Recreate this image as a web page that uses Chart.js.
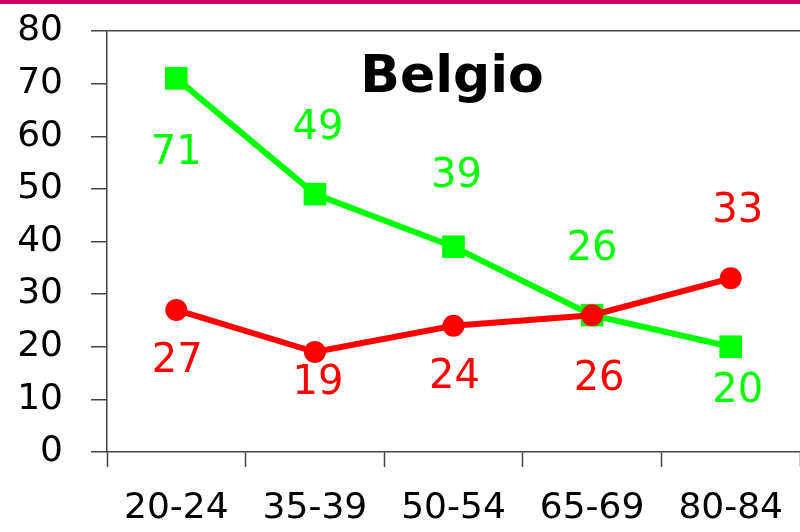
<!DOCTYPE html>
<html>
<head>
<meta charset="utf-8">
<script src="https://cdn.jsdelivr.net/npm/chart.js@4"></script>
<style>
  html, body { margin: 0; padding: 0; background: #fff; }
  #wrap { position: relative; width: 800px; height: 532px; }
  #band { position: absolute; left: 0; top: 0; width: 800px; height: 4px; background: #cc0066; }
</style>
</head>
<body>
<div id="wrap">
  <div id="band"></div>
  <canvas id="chart" width="800" height="532"></canvas>
</div>
<script>
// Age groups and values for Belgium
const ageGroups = ['20-24', '35-39', '50-54', '65-69', '80-84'];
const greenValues = [71, 49, 39, 26, 20];
const redValues = [27, 19, 24, 26, 33];
const chartTitle = 'Belgio';

const FONT = '"Comic Sans MS", "DejaVu Sans", sans-serif';

// Where each value label sits relative to its point (pixels)
const greenLabelOffsets = [[0, 75], [3, -66], [3, -70], [0, -66], [7, 45]];
const redLabelOffsets = [[1, 52], [3, 32], [1, 52], [7, 64], [7, -67]];

const valueLabels = {
  id: 'valueLabels',
  afterDatasetsDraw(chart) {
    const ctx = chart.ctx;
    const offsets = [greenLabelOffsets, redLabelOffsets];
    ctx.save();
    ctx.font = '40px ' + FONT;
    ctx.textAlign = 'center';
    ctx.textBaseline = 'middle';
    chart.data.datasets.forEach((ds, i) => {
      const meta = chart.getDatasetMeta(i);
      ctx.fillStyle = ds.borderColor;
      meta.data.forEach((pt, j) => {
        const [dx, dy] = offsets[i][j];
        ctx.fillText(String(ds.data[j]), pt.x + dx, pt.y + dy);
      });
    });
    // title inside the plot
    ctx.fillStyle = '#000';
    ctx.font = 'bold 52px ' + FONT;
    ctx.fillText(chartTitle, 452, 78);
    ctx.restore();
  }
};

new Chart(document.getElementById('chart'), {
  type: 'line',
  data: {
    labels: ageGroups,
    datasets: [
      {
        data: greenValues,
        borderColor: '#00ff00',
        backgroundColor: '#00ff00',
        borderWidth: 6,
        pointStyle: 'rect',
        pointRadius: 16,
        pointHoverRadius: 16,
        pointBorderWidth: 0,
        tension: 0,
        order: 2
      },
      {
        data: redValues,
        borderColor: '#ff0000',
        backgroundColor: '#ff0000',
        borderWidth: 6,
        pointStyle: 'circle',
        pointRadius: 11,
        pointHoverRadius: 11,
        pointBorderWidth: 0,
        tension: 0,
        order: 1
      }
    ]
  },
  options: {
    responsive: false,
    animation: false,
    layout: { autoPadding: false, padding: { top: 31, right: -2, left: 0, bottom: 0 } },
    plugins: {
      legend: { display: false },
      tooltip: { enabled: false }
    },
    scales: {
      x: {
        offset: true,
        grid: {
          offset: true,
          drawOnChartArea: false,
          tickLength: 15,
          tickColor: '#444',
          tickWidth: 1.5
        },
        border: { color: '#444', width: 1.5 },
        ticks: {
          color: '#000',
          padding: 20,
          font: { family: FONT, size: 36 }
        },
        afterFit(scale) {
          scale.height = 80;
          scale.paddingLeft = 0;
          scale.paddingRight = 0;
        }
      },
      y: {
        min: 0,
        max: 80,
        grid: {
          color: c => (c.tick && c.tick.value === 80 ? '#444' : 'transparent'),
          lineWidth: 1.5,
          tickLength: 16,
          tickColor: '#444',
          tickWidth: 1.5
        },
        border: { color: '#444', width: 1.5 },
        ticks: {
          stepSize: 10,
          color: '#000',
          padding: 28,
          font: { family: FONT, size: 36 }
        },
        afterFit(scale) {
          scale.width = 107;
          scale.paddingTop = 0;
          scale.paddingBottom = 0;
        }
      }
    }
  },
  plugins: [valueLabels]
});
</script>
</body>
</html>
